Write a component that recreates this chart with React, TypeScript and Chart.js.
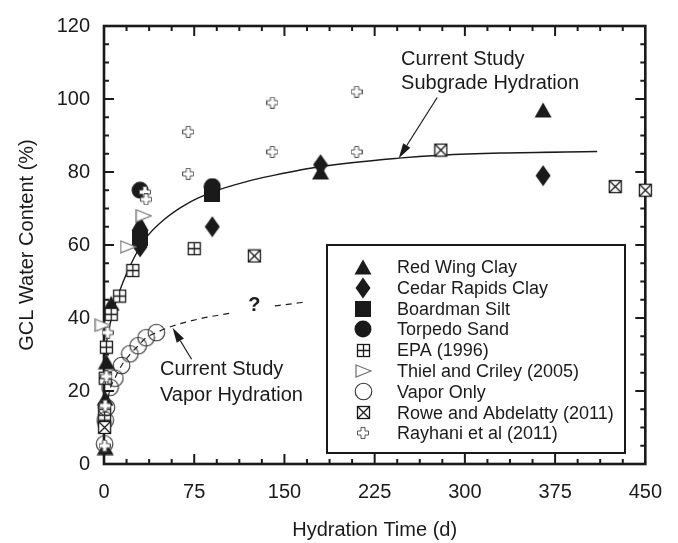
import React, { useEffect, useRef } from 'react';
import { Chart, registerables } from 'chart.js';

Chart.register(...registerables);

// ---- data ----
const redWingT = [1, 1, 2, 6, 30, 180, 365];
const redWingW = [4.5, 18, 28, 44, 66, 80, 97];
const cedarT = [30, 90, 180, 365];
const cedarW = [59.5, 65, 82, 79];
const boardmanT = [30, 90];
const boardmanW = [62, 74];
const torpedoT = [30, 90];
const torpedoW = [75, 76];
const epaT = [0.5, 0.5, 1, 2, 6, 13, 24, 75];
const epaW = [12, 15, 23.5, 32, 41, 46, 53, 59];
const thielT = [-1, 20, 33];
const thielW = [38, 59.5, 68];
const vaporT = [0.5, 1, 2, 5, 9, 14.6, 21.5, 28.4, 35, 43.5];
const vaporW = [5.5, 12, 15.5, 21, 23.5, 27, 30.2, 32.4, 34.6, 36];
const roweT = [0.5, 125, 280, 425, 450];
const roweW = [10, 57, 86, 76, 75];
const rayhaniT = [0.5, 1, 2, 3, 34, 35, 70, 70, 140, 140, 210, 210];
const rayhaniW = [5, 16, 24, 36, 74.5, 72.5, 91, 79.5, 99, 85.5, 102, 85.5];

const subgradeFitT = [0, 3, 7.7, 16, 25, 35, 50, 70, 90, 120, 140, 180, 245, 280, 330, 410];
const subgradeFitW = [28.7, 35, 42, 50, 56.5, 62, 67, 71.5, 74.5, 77.5, 79, 81.5, 83.8, 84.6, 85.2, 85.6];
const vaporFitT = [1, 2, 5, 9, 14.6, 21.5, 28.4, 35, 43.5, 57, 80, 108, 125, 142, 168];
const vaporFitW = [12, 15, 20.5, 23.5, 27, 30, 32.4, 34.6, 36, 37.8, 39.8, 41.5, null, 43.3, 44.4];

const xTicksMajor = 75;
const yTicksMajor = 20;

const legendLabels = [
  'Red Wing Clay',
  'Cedar Rapids Clay',
  'Boardman Silt',
  'Torpedo Sand',
  'EPA (1996)',
  'Thiel and Criley (2005)',
  'Vapor Only',
  'Rowe and Abdelatty (2011)',
  'Rayhani et al (2011)',
];

const FONT = "'Liberation Sans', Arial, Helvetica, sans-serif";
const INK = '#1a1a1a';

function pts(t: number[], w: (number | null)[]) {
  return t.map((x, i) => ({ x, y: w[i] }));
}

function mk(w: number, h: number, draw: (g: CanvasRenderingContext2D) => void) {
  const c = document.createElement('canvas');
  c.width = w;
  c.height = h;
  const g = c.getContext('2d')!;
  draw(g);
  return c;
}

function makeMarkers() {
  const tri = mk(18, 16, (g) => {
    g.fillStyle = INK;
    g.beginPath();
    g.moveTo(9, 0.5);
    g.lineTo(17.5, 15.5);
    g.lineTo(0.5, 15.5);
    g.closePath();
    g.fill();
  });
  const dia = mk(16, 22, (g) => {
    g.fillStyle = INK;
    g.beginPath();
    g.moveTo(8, 0.5);
    g.lineTo(15.5, 11);
    g.lineTo(8, 21.5);
    g.lineTo(0.5, 11);
    g.closePath();
    g.fill();
  });
  const sq = mk(16, 16, (g) => {
    g.fillStyle = INK;
    g.fillRect(0, 0, 16, 16);
  });
  const cir = mk(18, 18, (g) => {
    g.fillStyle = INK;
    g.beginPath();
    g.arc(9, 9, 8.5, 0, Math.PI * 2);
    g.fill();
  });
  const epa = mk(15, 15, (g) => {
    g.fillStyle = '#fff';
    g.fillRect(1, 1, 13, 13);
    g.strokeStyle = INK;
    g.lineWidth = 1.3;
    g.strokeRect(1.5, 1.5, 12, 12);
    g.beginPath();
    g.moveTo(7.5, 1.5);
    g.lineTo(7.5, 13.5);
    g.moveTo(1.5, 7.5);
    g.lineTo(13.5, 7.5);
    g.stroke();
  });
  const thiel = mk(17, 14, (g) => {
    g.fillStyle = '#fff';
    g.strokeStyle = '#777';
    g.lineWidth = 1.3;
    g.beginPath();
    g.moveTo(1, 1);
    g.lineTo(16, 7);
    g.lineTo(1, 13);
    g.closePath();
    g.fill();
    g.stroke();
  });
  const vap = mk(19, 19, (g) => {
    g.strokeStyle = '#333';
    g.lineWidth = 1.1;
    g.beginPath();
    g.arc(9.5, 9.5, 8.3, 0, Math.PI * 2);
    g.stroke();
  });
  const rowe = mk(15, 15, (g) => {
    g.fillStyle = '#fff';
    g.fillRect(1, 1, 13, 13);
    g.strokeStyle = INK;
    g.lineWidth = 1.3;
    g.strokeRect(1.5, 1.5, 12, 12);
    g.beginPath();
    g.moveTo(1.5, 1.5);
    g.lineTo(13.5, 13.5);
    g.moveTo(13.5, 1.5);
    g.lineTo(1.5, 13.5);
    g.stroke();
  });
  const ray = mk(12, 12, (g) => {
    g.fillStyle = '#fff';
    g.strokeStyle = '#555';
    g.lineWidth = 1;
    g.beginPath();
    const p = [
      [4, 0.5], [8, 0.5], [8, 4], [11.5, 4], [11.5, 8], [8, 8],
      [8, 11.5], [4, 11.5], [4, 8], [0.5, 8], [0.5, 4], [4, 4],
    ];
    p.forEach(([x, y], i) => (i ? g.lineTo(x, y) : g.moveTo(x, y)));
    g.closePath();
    g.fill();
    g.stroke();
  });
  return [tri, dia, sq, cir, epa, thiel, vap, rowe, ray];
}

function arrow(ctx: CanvasRenderingContext2D, x1: number, y1: number, x2: number, y2: number) {
  const ang = Math.atan2(y2 - y1, x2 - x1);
  const len = 15;
  const hw = 4.2;
  const bx = x2 - Math.cos(ang) * len;
  const by = y2 - Math.sin(ang) * len;
  ctx.beginPath();
  ctx.moveTo(x1, y1);
  ctx.lineTo(bx, by);
  ctx.stroke();
  ctx.beginPath();
  ctx.moveTo(x2, y2);
  ctx.lineTo(bx + Math.sin(ang) * hw, by - Math.cos(ang) * hw);
  ctx.lineTo(bx - Math.sin(ang) * hw, by + Math.cos(ang) * hw);
  ctx.closePath();
  ctx.fill();
}

export default function App() {
  const ref = useRef<HTMLCanvasElement | null>(null);

  useEffect(() => {
    const canvas = ref.current;
    if (!canvas) return;
    const markers = makeMarkers();

    const framePlugin = {
      id: 'frameTicks',
      beforeDatasetsDraw(chart: any) {
        const { ctx, chartArea: a, scales } = chart;
        ctx.save();
        ctx.strokeStyle = INK;
        ctx.lineWidth = 2;
        ctx.beginPath();
        scales.x.ticks.forEach((t: any) => {
          const px = scales.x.getPixelForValue(t.value);
          if (px <= a.left + 1 || px >= a.right - 1) return;
          const major = Math.abs(t.value % xTicksMajor) < 1e-6;
          const len = major ? 10 : 5;
          ctx.moveTo(px, a.bottom);
          ctx.lineTo(px, a.bottom - len);
          ctx.moveTo(px, a.top);
          ctx.lineTo(px, a.top + len);
        });
        scales.y.ticks.forEach((t: any) => {
          const py = scales.y.getPixelForValue(t.value);
          if (py <= a.top + 1 || py >= a.bottom - 1) return;
          const major = Math.abs(t.value % yTicksMajor) < 1e-6;
          const len = major ? 10 : 5;
          ctx.moveTo(a.left, py);
          ctx.lineTo(a.left + len, py);
          ctx.moveTo(a.right, py);
          ctx.lineTo(a.right - len, py);
        });
        ctx.stroke();
        ctx.lineWidth = 2.6;
        ctx.strokeRect(a.left, a.top, a.right - a.left, a.bottom - a.top);
        ctx.restore();
      },
      afterDraw(chart: any) {
        const { ctx, scales } = chart;
        const X = (v: number) => scales.x.getPixelForValue(v);
        const Y = (v: number) => scales.y.getPixelForValue(v);
        ctx.save();
        // annotations
        ctx.fillStyle = INK;
        ctx.strokeStyle = INK;
        ctx.lineWidth = 1.2;
        ctx.font = `20px ${FONT}`;
        ctx.textBaseline = 'alphabetic';
        ctx.textAlign = 'left';
        ctx.fillText('Current Study', X(247), Y(109.2));
        ctx.fillText('Subgrade Hydration', X(247), Y(102.8));
        arrow(ctx, X(277), Y(100.4), X(245), Y(83.8));
        ctx.fillText('Current Study', X(46.5), Y(24.5));
        ctx.fillText('Vapor Hydration', X(46.5), Y(17.2));
        arrow(ctx, X(72.8), Y(28.7), X(57), Y(37.3));
        ctx.font = `bold 20px ${FONT}`;
        ctx.textAlign = 'center';
        ctx.textBaseline = 'middle';
        ctx.fillText('?', X(125), Y(43.5));

        // legend box
        const bx = 327, by = 245, bw = 298, bh = 208;
        ctx.fillStyle = '#fff';
        ctx.fillRect(bx, by, bw, bh);
        ctx.lineWidth = 2;
        ctx.strokeRect(bx, by, bw, bh);
        ctx.font = `18px ${FONT}`;
        ctx.textAlign = 'left';
        ctx.textBaseline = 'middle';
        ctx.fillStyle = INK;
        legendLabels.forEach((lab, i) => {
          const cy = 267 + i * 20.8;
          const m = markers[i];
          ctx.drawImage(m, Math.round(363 - m.width / 2), Math.round(cy - m.height / 2));
          ctx.fillText(lab, 397, cy + 1);
        });
        ctx.restore();
      },
    };

    const common = { clip: false as any, pointRadius: 8, pointHoverRadius: 8, showLine: false };

    const chart = new Chart(canvas, {
      type: 'scatter',
      data: {
        datasets: [
          { label: legendLabels[8], data: pts(rayhaniT, rayhaniW), pointStyle: markers[8], ...common },
          { label: legendLabels[7], data: pts(roweT, roweW), pointStyle: markers[7], ...common },
          { label: legendLabels[6], data: pts(vaporT, vaporW), pointStyle: markers[6], ...common },
          { label: legendLabels[5], data: pts(thielT, thielW), pointStyle: markers[5], ...common },
          { label: legendLabels[4], data: pts(epaT, epaW), pointStyle: markers[4], ...common },
          { label: legendLabels[3], data: pts(torpedoT, torpedoW), pointStyle: markers[3], ...common },
          { label: legendLabels[2], data: pts(boardmanT, boardmanW), pointStyle: markers[2], ...common },
          { label: legendLabels[1], data: pts(cedarT, cedarW), pointStyle: markers[1], ...common },
          { label: legendLabels[0], data: pts(redWingT, redWingW), pointStyle: markers[0], ...common },
          {
            label: 'Current Study Subgrade Hydration',
            data: pts(subgradeFitT, subgradeFitW),
            showLine: true,
            pointRadius: 0,
            borderColor: INK,
            borderWidth: 1.4,
            cubicInterpolationMode: 'monotone',
            clip: false as any,
          } as any,
          {
            label: 'Current Study Vapor Hydration',
            data: pts(vaporFitT, vaporFitW),
            showLine: true,
            pointRadius: 0,
            borderColor: INK,
            borderWidth: 1.2,
            borderDash: [6, 5],
            cubicInterpolationMode: 'monotone',
            spanGaps: false,
            clip: false as any,
          } as any,
        ],
      },
      options: {
        responsive: false,
        animation: false,
        devicePixelRatio: 1,
        layout: { padding: { left: 0, top: 17, right: 30, bottom: 0 } },
        plugins: { legend: { display: false }, tooltip: { enabled: false } },
        scales: {
          x: {
            type: 'linear',
            min: 0,
            max: 450,
            grid: { display: false, drawTicks: false },
            border: { display: false },
            ticks: {
              stepSize: 18.75,
              autoSkip: false,
              maxRotation: 0,
              padding: 16,
              color: INK,
              font: { family: FONT, size: 20 },
              callback: (v: any) => (Math.abs(Number(v) % xTicksMajor) < 1e-6 ? String(v) : ''),
            },
            title: {
              display: true,
              text: 'Hydration Time (d)',
              color: INK,
              font: { family: FONT, size: 20 },
              padding: { top: 0, bottom: 1 },
            },
            afterFit: (s: any) => {
              s.height = 79;
            },
          },
          y: {
            type: 'linear',
            min: 0,
            max: 120,
            grid: { display: false, drawTicks: false },
            border: { display: false },
            ticks: {
              stepSize: 5,
              autoSkip: false,
              padding: 14,
              color: INK,
              font: { family: FONT, size: 20 },
              callback: (v: any) => (Math.abs(Number(v) % yTicksMajor) < 1e-6 ? String(v) : ''),
            },
            title: {
              display: true,
              text: 'GCL Water Content (%)',
              color: INK,
              font: { family: FONT, size: 20 },
              padding: { top: 15, bottom: 0 },
            },
            afterFit: (s: any) => {
              s.width = 104;
            },
          },
        },
      },
      plugins: [framePlugin],
    } as any);

    return () => chart.destroy();
  }, []);

  return (
    <div style={{ position: 'fixed', left: 0, top: 0, width: 678, height: 543, background: '#fff' }}>
      <canvas ref={ref} width={678} height={543} style={{ display: 'block' }} />
    </div>
  );
}
